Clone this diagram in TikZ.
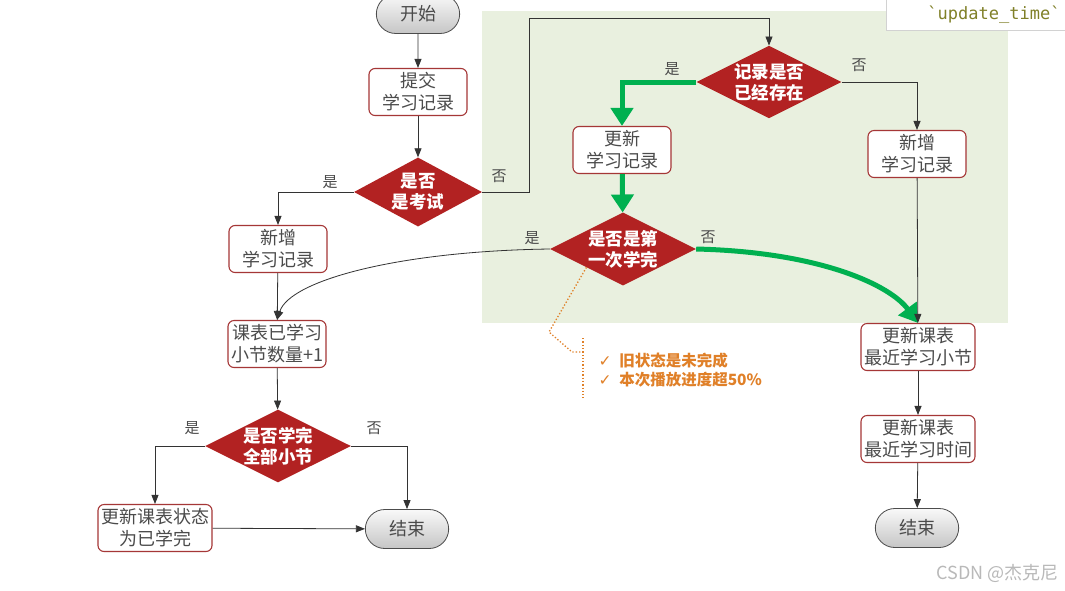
\documentclass[tikz,border=0pt]{standalone}
\usepackage{fontspec}
\setmainfont{Noto Sans CJK SC}
\setmonofont{DejaVu Sans Mono}
\newfontfamily\symfont{DejaVu Sans}
\usetikzlibrary{arrows.meta,shapes.geometric,shapes.misc}
\definecolor{boxred}{RGB}{165,55,55}
\definecolor{diared}{RGB}{178,34,34}
\definecolor{flowgreen}{RGB}{0,176,80}
\definecolor{zonegreen}{RGB}{233,240,223}
\definecolor{noteorange}{RGB}{224,128,40}
\definecolor{textgray}{RGB}{75,75,75}
\definecolor{codeolive}{RGB}{128,128,40}

\begin{document}
\begin{tikzpicture}[x=1pt,y=-1pt,
    box/.style={draw=boxred, line width=1.1pt, rounded corners=6pt, fill=white,
        minimum width=98pt, minimum height=47pt, inner xsep=3pt, align=center,
        text=textgray, font=\fontsize{18}{22}\selectfont},
    dec/.style={diamond, aspect=2, fill=diared, minimum width=145pt, minimum height=71pt,
        inner sep=0pt, align=center, text=white, font=\fontsize{17.5}{21}\selectfont\bfseries},
    term/.style={rounded rectangle, draw=gray!60!black, line width=0.8pt,
        top color=gray!5, bottom color=gray!45, minimum width=90pt, minimum height=39pt,
        text=textgray, font=\fontsize{18}{22}\selectfont},
    flow/.style={draw=black!80, line width=0.8pt, -{Triangle[length=9pt,width=7pt]}},
    hot/.style={draw=flowgreen, line width=5pt, -{Triangle[length=18pt,width=22pt]}},
    lab/.style={text=textgray, font=\fontsize{15}{17}\selectfont}]
    \useasboundingbox[fill=white] (0,0) rectangle (1065,590);

    % zona evidenziata (verde chiaro)
    \fill[zonegreen] (482,11) rectangle (1008,323);

    % riquadro di codice in alto a destra
    \fill[white] (886,-2) rectangle (1067,30);
    \draw[gray!35] (886,-2) -- (886,30) -- (1067,30);
    \node[text=codeolive, font=\ttfamily\fontsize{17}{20}\selectfont] (code) at (994,15) {`update\_time`};

    % nodi del ramo sinistro
    \node[term] (start) at (418,14) {开始};
    \node[box] (submit) at (418,92) {提交\\学习记录};
    \node[dec, minimum width=128pt, minimum height=69pt] (exam) at (418,192) {是否\\是考试};
    \node[box] (addL) at (278,249) {新增\\学习记录};
    \node[box] (count) at (277,344) {课表已学习\\小节数量+1};
    \node[dec] (all) at (278,446) {是否学完\\全部小节};
    \node[box] (done) at (155,528) {更新课表状态\\为已学完};
    \node[term] (endL) at (407,529) {结束};

    % nodi del ramo destro
    \node[dec] (exists) at (769,82) {记录是否\\已经存在};
    \node[box] (upd) at (622,150) {更新\\学习记录};
    \node[box] (addR) at (917,154) {新增\\学习记录};
    \node[dec] (first) at (623,249) {是否是第\\一次学完};
    \node[box] (sect) at (918,347) {更新课表\\最近学习小节};
    \node[box] (time) at (918,439) {更新课表\\最近学习时间};
    \node[term] (endR) at (917,528) {结束};

    % collegamenti sottili
    \coordinate (hop) at (529,18);
    \draw[flow] (start) -- (submit);
    \draw[flow] (submit) -- (exam);
    \draw[flow] (exam.west) -| (addL.north);
    \draw[flow] (exam.east) -| (hop) -| (exists.north);
    \draw[flow] (addL) -- (count);
    \draw[flow] (first.west) .. controls (400,251) and (290,280) .. (count.north);
    \draw[flow] (count) -- (all);
    \draw[flow] (all.west) -| (done.north);
    \draw[flow] (all.east) -| (endL.north);
    \draw[flow] (done) -- (endL);

    % percorso evidenziato (verde, tratto spesso)
    \draw[hot] (exists.west) -| (upd.north);
    \draw[hot] (upd) -- (first);
    \draw[hot] (first.east) .. controls (820,252) and (890,285) .. (sect.north);

    \draw[flow] (exists.east) -| (addR.north);
    \draw[flow] (addR) -- (sect);
    \draw[flow] (sect) -- (time);
    \draw[flow] (time) -- (endR);

    % etichette si/no
    \node[lab] (examyes) at (330,182) {是};
    \node[lab] (examno) at (499,176) {否};
    \node[lab] (existsyes) at (672,69) {是};
    \node[lab] (existsno) at (859,65) {否};
    \node[lab] (firstyes) at (532,238) {是};
    \node[lab] (firstno) at (708,237) {否};
    \node[lab] (allyes) at (192,428) {是};
    \node[lab] (allno) at (374,428) {否};

    % nota arancione
    \coordinate (bend) at (549,332);
    \coordinate (knee) at (572,352);
    \coordinate (bartop) at (583,338);
    \coordinate (barbot) at (583,398);
    \coordinate (barmid) at (583,352);
    \draw[noteorange, line width=1.3pt, dotted] (first.south west) -- (bend) -- (knee) -- (barmid);
    \draw[noteorange, line width=1.3pt, dotted] (bartop) -- (barbot);
    \node[anchor=west, align=left, text=noteorange, font=\fontsize{15.5}{19}\selectfont\bfseries] (note) at (595,370)
        {{\symfont ✓}\enspace 旧状态是未完成\\{\symfont ✓}\enspace 本次播放进度超50\%};

    % filigrana
    \node[anchor=east, text=gray!55, font=\fontsize{18}{20}\selectfont] (mark) at (1062,573) {CSDN @杰克尼};
\end{tikzpicture}
\end{document}
